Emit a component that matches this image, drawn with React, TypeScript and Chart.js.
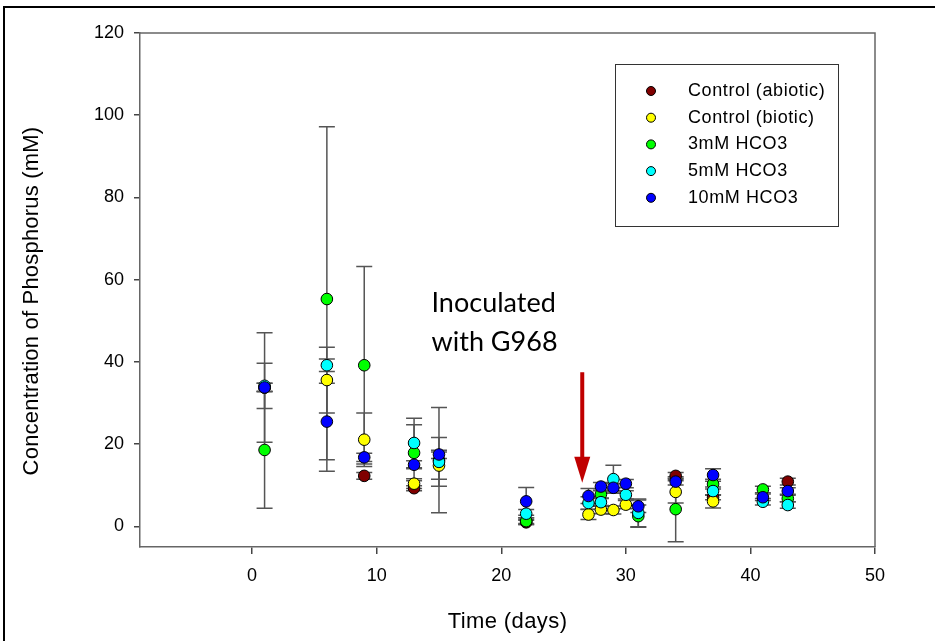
import React, { useEffect, useRef } from 'react';
import { Chart, registerables } from 'chart.js';

Chart.register(...registerables);

// ---- data ----
const days = [1, 6, 9, 13, 15, 22, 27, 28, 29, 30, 31, 34, 37, 41, 43];
const seriesNames = ['Control (abiotic)', 'Control (biotic)', '3mM HCO3', '5mM HCO3', '10mM HCO3'];
const seriesColors = ['#800000', '#ffff00', '#00ff00', '#00ffff', '#0000ff'];

const abioticVals = [33.8, null, 12.3, 9.3, null, 1.0, null, null, null, null, null, 12.3, 7.1, null, 10.9];
const abioticErr = [1.0, null, 0.8, 0.6, null, 0.5, null, null, null, null, null, 0.8, 0.6, null, 0.8];

const bioticVals = [33.8, 35.6, 21.1, 10.4, 14.8, 1.2, 2.9, 4.1, 4.0, 5.3, null, 8.4, 6.1, null, null];
const bioticErr = [1.0, 8.0, 6.5, 1.2, 3.3, 0.5, 1.2, 1.0, 1.0, 1.0, null, 2.7, 1.6, null, null];

const hco3_3Vals = [18.6, 55.3, 39.2, 17.9, 16.1, 1.3, null, 7.8, null, null, 2.5, 4.2, 10.3, 9.0, 6.8];
const hco3_3Err = [14.2, 41.9, 24.0, 6.8, 12.8, 0.8, null, 1.0, null, null, 2.7, 7.9, 1.2, 0.8, 0.8];

const hco3_5Vals = [34.2, 39.2, null, 20.3, 15.7, 3.1, 5.7, 5.9, 11.5, 7.7, 3.3, null, 8.6, 6.0, 5.2];
const hco3_5Err = [5.5, 1.5, null, 6.0, 5.9, 1.0, 1.5, 1.0, 3.4, 1.0, 3.4, null, 1.0, 0.8, 0.8];

const hco3_10Vals = [33.8, 25.5, 16.8, 15.0, 17.5, 6.1, 7.4, 9.7, 9.4, 10.4, 4.9, 10.9, 12.5, 7.1, 8.6];
const hco3_10Err = [13.3, 9.3, 1.0, 1.0, 1.0, 3.4, 1.8, 1.0, 1.0, 1.0, 1.5, 0.8, 1.5, 0.8, 0.8];

const xTicks = [0, 10, 20, 30, 40, 50];
const yTicks = [0, 20, 40, 60, 80, 100, 120];
const xTitle = 'Time (days)';
const yTitle = 'Concentration of Phosphorus (mM)';
const noteLines = ['Inoculated', 'with G968'];
const arrowDay = 26.5;
const arrowTop = 37.5;
const arrowTip = 10.6;
const noteDay = 14.4;
const noteY = [52.2, 42.7];

const allVals = [abioticVals, bioticVals, hco3_3Vals, hco3_5Vals, hco3_10Vals];
const allErr = [abioticErr, bioticErr, hco3_3Err, hco3_5Err, hco3_10Err];

const FONT = '"Liberation Sans", Arial, sans-serif';

const errorBarPlugin = {
  id: 'errorBars',
  beforeDatasetsDraw(chart: any) {
    const { ctx, scales } = chart;
    const xs = scales.x, ys = scales.y;
    ctx.save();
    ctx.strokeStyle = '#555';
    ctx.lineWidth = 1.5;
    chart.data.datasets.forEach((ds: any) => {
      ds.data.forEach((p: any) => {
        if (p.e == null) return;
        const x = xs.getPixelForValue(p.x);
        const yt = ys.getPixelForValue(p.y + p.e);
        const yb = ys.getPixelForValue(p.y - p.e);
        ctx.beginPath();
        ctx.moveTo(x, yt); ctx.lineTo(x, yb);
        ctx.moveTo(x - 8, yt); ctx.lineTo(x + 8, yt);
        ctx.moveTo(x - 8, yb); ctx.lineTo(x + 8, yb);
        ctx.stroke();
      });
    });
    ctx.restore();
  },
};

const decorPlugin = {
  id: 'decor',
  afterDraw(chart: any) {
    const { ctx, chartArea, scales } = chart;
    const xs = scales.x, ys = scales.y;
    ctx.save();
    // frame (top and right)
    ctx.strokeStyle = '#666';
    ctx.lineWidth = 1.5;
    ctx.beginPath();
    ctx.moveTo(chartArea.left, chartArea.top);
    ctx.lineTo(chartArea.right, chartArea.top);
    ctx.lineTo(chartArea.right, chartArea.bottom);
    ctx.stroke();

    // outer figure border
    ctx.fillStyle = '#000';
    ctx.fillRect(3, 6, 935, 2);
    ctx.fillRect(3, 6, 2, 641);

    // y title
    ctx.fillStyle = '#000';
    ctx.font = `22px ${FONT}`;
    ctx.textAlign = 'center';
    ctx.textBaseline = 'middle';
    (ctx as any).letterSpacing = '0.2px';
    ctx.save();
    ctx.translate(32, 301);
    ctx.rotate(-Math.PI / 2);
    ctx.fillText(yTitle, 0, 0);
    ctx.restore();
    // x title
    (ctx as any).letterSpacing = '0.4px';
    ctx.fillText(xTitle, (chartArea.left + chartArea.right) / 2, 622);
    (ctx as any).letterSpacing = '0px';

    // annotation text
    ctx.font = '27px Lato, sans-serif';
    ctx.textAlign = 'left';
    ctx.textBaseline = 'alphabetic';
    noteLines.forEach((t, i) => {
      ctx.fillText(t, xs.getPixelForValue(noteDay), ys.getPixelForValue(noteY[i]));
    });

    // arrow
    const ax = xs.getPixelForValue(arrowDay);
    const aTop = ys.getPixelForValue(arrowTop);
    const aTip = ys.getPixelForValue(arrowTip);
    const headLen = 26;
    ctx.fillStyle = '#c00000';
    ctx.fillRect(ax - 2, aTop, 4, aTip - headLen - aTop + 1);
    ctx.beginPath();
    ctx.moveTo(ax - 8, aTip - headLen);
    ctx.lineTo(ax + 8, aTip - headLen);
    ctx.lineTo(ax, aTip);
    ctx.closePath();
    ctx.fill();

    // legend
    const lx = chartArea.right - 260, ly = chartArea.top + 31;
    ctx.fillStyle = '#fff';
    ctx.fillRect(lx, ly, 223, 162);
    ctx.strokeStyle = '#333';
    ctx.lineWidth = 1;
    ctx.strokeRect(lx + 0.5, ly + 0.5, 223, 162);
    ctx.font = `18px ${FONT}`;
    (ctx as any).letterSpacing = '0.6px';
    ctx.textBaseline = 'middle';
    seriesNames.forEach((name, i) => {
      const cy = ly + 27 + i * 26.7;
      ctx.beginPath();
      ctx.arc(lx + 36, cy, 4.5, 0, Math.PI * 2);
      ctx.fillStyle = seriesColors[i];
      ctx.fill();
      ctx.strokeStyle = '#000';
      ctx.stroke();
      ctx.fillStyle = '#000';
      ctx.fillText(name, lx + 73, cy);
    });
    (ctx as any).letterSpacing = '0px';
    ctx.restore();
  },
};

export default function App() {
  const ref = useRef<HTMLCanvasElement>(null);
  useEffect(() => {
    if (!ref.current) return;
    const datasets = seriesNames.map((name, si) => ({
      label: name,
      data: days
        .map((d, i) => (allVals[si][i] == null ? null : { x: d, y: allVals[si][i], e: allErr[si][i] }))
        .filter((p) => p !== null),
      backgroundColor: seriesColors[si],
      borderColor: '#000',
      borderWidth: 1,
      pointRadius: 5.8,
      pointHoverRadius: 5.8,
      order: 5 - si,
    }));
    const chart = new Chart(ref.current, {
      type: 'scatter',
      data: { datasets: datasets as any },
      options: {
        animation: false,
        responsive: false,
        devicePixelRatio: 1,
        layout: { padding: { top: 33, right: 60, left: 0, bottom: 0 } },
        plugins: { legend: { display: false }, tooltip: { enabled: false } },
        scales: {
          x: {
            type: 'linear',
            min: -9,
            max: 50,
            afterBuildTicks: (s: any) => { s.ticks = xTicks.map((v) => ({ value: v })); },
            afterFit: (s: any) => { s.height = 94; },
            grid: { display: true, drawOnChartArea: false, drawTicks: true, tickLength: 7, color: '#444', lineWidth: 1.5 },
            border: { display: true, color: '#666', width: 1.5 },
            ticks: { color: '#000', font: { family: FONT, size: 18 }, padding: 11, maxRotation: 0 },
          },
          y: {
            type: 'linear',
            min: -5,
            max: 120,
            afterBuildTicks: (s: any) => { s.ticks = yTicks.map((v) => ({ value: v })); },
            afterFit: (s: any) => { s.width = 140; },
            grid: { display: true, drawOnChartArea: false, drawTicks: true, tickLength: 6, color: '#444', lineWidth: 1.5 },
            border: { display: true, color: '#666', width: 1.5 },
            ticks: { color: '#000', font: { family: FONT, size: 18 }, padding: 10 },
          },
        },
      },
      plugins: [errorBarPlugin, decorPlugin],
    });
    return () => chart.destroy();
  }, []);
  return (
    <div style={{ position: 'absolute', left: 0, top: 0, width: 935, height: 641, background: '#fff' }}>
      <canvas ref={ref} width={935} height={641} />
    </div>
  );
}
